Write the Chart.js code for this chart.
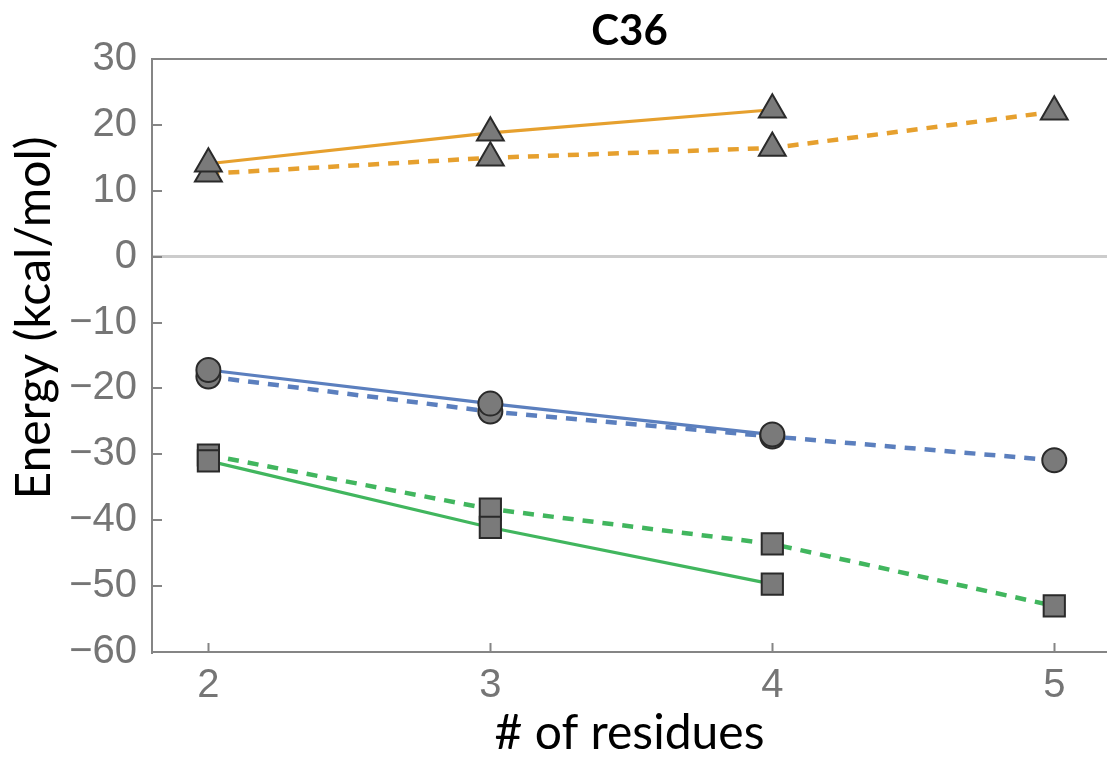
<!DOCTYPE html>
<html>
<head>
<meta charset="utf-8">
<script src="https://cdn.jsdelivr.net/npm/chart.js@4.4.0/dist/chart.umd.min.js"></script>
<style>
html,body{margin:0;padding:0;background:#fff;}
#wrap{width:1107px;height:758px;position:relative;}
</style>
</head>
<body>
<div id="wrap"><canvas id="c" width="1107" height="758"></canvas></div>
<script>
// ---- data ----
const residues = [2, 3, 4, 5];
const xTicks = [2, 3, 4, 5];
const yTicks = [-60, -50, -40, -30, -20, -10, 0, 10, 20, 30];
const orangeSolid  = [14.1, 18.8, 22.3];
const orangeDashed = [12.6, 15.0, 16.5, 22.0];
const blueSolid    = [-17.2, -22.3, -27.0];
const blueDashed   = [-18.2, -23.5, -27.3, -30.9];
const greenSolid   = [-31.0, -41.1, -49.7];
const greenDashed  = [-30.1, -38.3, -43.6, -53.0];
const chartTitle = 'C36';
const xTitle = '# of residues';
const yTitle = 'Energy (kcal/mol)';

// ---- styles ----
const ORANGE = '#E6A02E';
const BLUE = '#5B7FBE';
const GREEN = '#41B65E';
const AXIS = '#858585';
const MARK_FILL = '#7a7a7a';
const MARK_EDGE = '#2a2a2a';

const pts = arr => arr.map((v, i) => ({x: residues[i], y: v}));

function lineDs(arr, color, dashed) {
  return {
    data: pts(arr), showLine: true, borderColor: color,
    borderWidth: dashed ? 4.5 : 3.2, borderDash: dashed ? [11, 9] : [],
    pointRadius: 0, pointHoverRadius: 0, fill: false, order: 2
  };
}
function markDs(arr, style, r) {
  return {
    data: pts(arr), showLine: false, pointStyle: style, pointRadius: r,
    pointHoverRadius: r, backgroundColor: MARK_FILL, borderColor: MARK_EDGE,
    pointBorderWidth: 2, order: 1
  };
}

const datasets = [
  lineDs(orangeSolid, ORANGE, false), lineDs(orangeDashed, ORANGE, true),
  lineDs(blueSolid, BLUE, false), lineDs(blueDashed, BLUE, true),
  lineDs(greenSolid, GREEN, false), lineDs(greenDashed, GREEN, true),
  markDs(orangeSolid, 'triangle', 15.5), markDs(orangeDashed, 'triangle', 15.5),
  markDs(blueSolid, 'circle', 12), markDs(blueDashed, 'circle', 12),
  markDs(greenSolid, 'rect', 15), markDs(greenDashed, 'rect', 15)
];

const decor = {
  id: 'decor',
  beforeDatasetsDraw(chart) {
    const {ctx, chartArea: a, scales: {x, y}} = chart;
    ctx.save();
    ctx.strokeStyle = AXIS;
    ctx.lineWidth = 2;
    ctx.beginPath();
    yTicks.forEach(v => {
      if (v <= y.min || v >= y.max) return;
      const py = Math.round(y.getPixelForValue(v));
      ctx.moveTo(a.left, py); ctx.lineTo(a.left + 10, py);
    });
    xTicks.forEach(v => {
      const px = Math.round(x.getPixelForValue(v)) + 0.5;
      ctx.moveTo(px, a.bottom); ctx.lineTo(px, a.bottom - 9);
    });
    // top frame line
    ctx.moveTo(a.left, a.top); ctx.lineTo(chart.width, a.top);
    ctx.stroke();
    ctx.restore();
  },
  afterDraw(chart) {
    const {ctx, chartArea: a} = chart;
    ctx.save();
    ctx.fillStyle = '#000';
    ctx.textAlign = 'center';
    ctx.textBaseline = 'middle';
    ctx.font = 'bold 42px Lato';
    ctx.fillText(chartTitle, (a.left + a.right) / 2, 31);
    ctx.translate(35, 318);
    ctx.rotate(-Math.PI / 2);
    ctx.font = '48px Lato';
    ctx.fillText(yTitle, 0, 0);
    ctx.restore();
  }
};

new Chart(document.getElementById('c'), {
  type: 'scatter',
  data: {datasets},
  plugins: [decor],
  options: {
    responsive: false,
    animation: false,
    events: [],
    layout: {autoPadding: false, padding: {top: 59, left: 0, right: 0, bottom: 0}},
    plugins: {legend: {display: false}, tooltip: {enabled: false}, title: {display: false}},
    scales: {
      x: {
        type: 'linear', min: 1.8, max: 5.187,
        afterBuildTicks: s => { s.ticks = xTicks.map(v => ({value: v})); },
        afterFit: s => { s.height = 106; s.paddingLeft = 0; s.paddingRight = 0; },
        grid: {display: false, drawTicks: false},
        border: {display: true, color: AXIS, width: 2},
        ticks: {padding: 10, color: '#757575', font: {family: 'Liberation Sans', size: 40},
                callback: v => String(v)},
        title: {display: true, text: xTitle, color: '#000', font: {family: 'Lato', size: 48, lineHeight: 1.0},
                padding: {top: 0, bottom: 0}}
      },
      y: {
        type: 'linear', min: -60, max: 30,
        afterBuildTicks: s => { s.ticks = yTicks.map(v => ({value: v})); },
        afterFit: s => { s.width = 152; s.paddingTop = 0; s.paddingBottom = 0; },
        grid: {display: true, drawTicks: false, lineWidth: 3,
               color: c => (c.tick && c.tick.value === 0) ? '#cccccc' : 'rgba(0,0,0,0)'},
        border: {display: true, color: AXIS, width: 2},
        ticks: {padding: 15, color: '#757575', font: {family: 'Liberation Sans', size: 40},
                callback: v => (v < 0 ? '\u2212' + Math.abs(v) : String(v))}
      }
    }
  }
});
</script>
</body>
</html>
